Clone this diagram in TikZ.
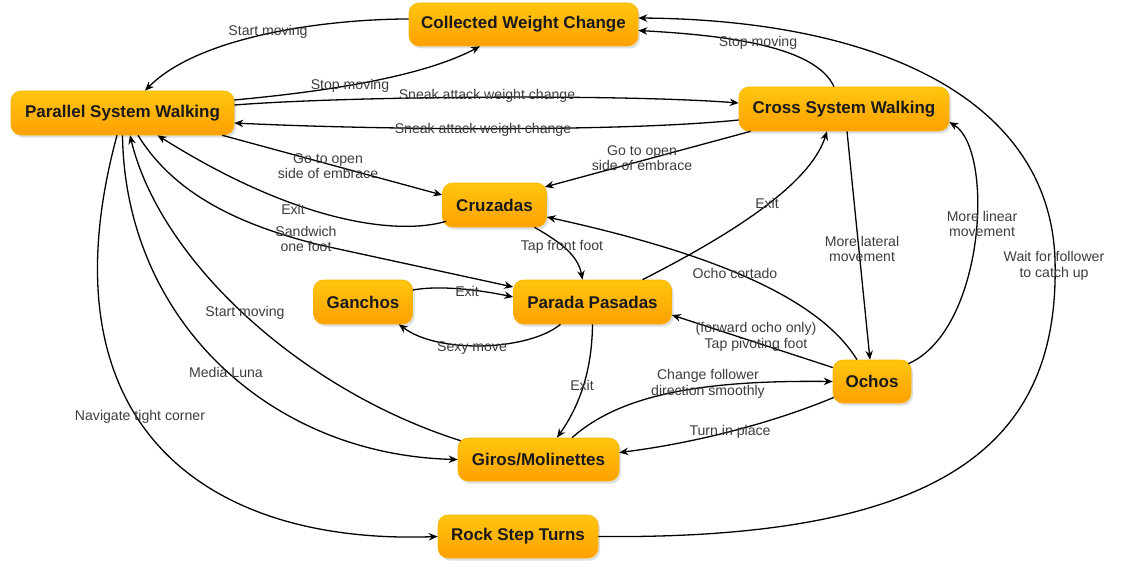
\documentclass[tikz,border=0pt]{standalone}
\usepackage{fontspec}
\setmainfont{Liberation Sans}
\usetikzlibrary{arrows.meta,calc,shadows}
\definecolor{boxtop}{HTML}{FFC60F}
\definecolor{boxbot}{HTML}{FFA000}
\definecolor{boxline}{HTML}{F7B400}
\definecolor{lbltext}{HTML}{3C3C3C}
\definecolor{boxtext}{HTML}{1A1A1A}
\begin{document}
\begin{tikzpicture}[x=1pt,y=-1pt,
  state/.style={rounded corners=10pt, top color=boxtop, bottom color=boxbot, draw=boxline, line width=0.6pt,
    drop shadow={shadow xshift=2pt,shadow yshift=-2.5pt,opacity=0.25},
    font=\fontsize{17}{19}\selectfont\bfseries, text=boxtext, inner sep=0pt},
  lbl/.style={font=\fontsize{14.1}{15.5}\selectfont, text=lbltext, align=center, inner sep=0pt},
  conn/.style={line width=1.3pt, -{Stealth[length=9pt,width=7.5pt]}},
]
\useasboundingbox (0,0) rectangle (1126,567);

% nodes
\node[state, minimum width=229pt, minimum height=43pt] (cwc) at (523.5,24.5) {Collected Weight Change};
\node[state, minimum width=223pt, minimum height=44pt] (psw) at (122.5,113) {Parallel System Walking};
\node[state, minimum width=210pt, minimum height=44pt] (csw) at (844,109) {Cross System Walking};
\node[state, minimum width=104pt, minimum height=44pt] (cruz) at (494.5,205) {Cruzadas};
\node[state, minimum width=99pt, minimum height=44pt] (gan) at (363,302) {Ganchos};
\node[state, minimum width=158pt, minimum height=44pt] (pp) at (592.5,302) {Parada Pasadas};
\node[state, minimum width=78pt, minimum height=43pt] (ochos) at (872,381.5) {Ochos};
\node[state, minimum width=161pt, minimum height=43pt] (giros) at (538.5,459.5) {Giros/Molinettes};
\node[state, minimum width=160pt, minimum height=43pt] (rock) at (518,536.5) {Rock Step Turns};

% connectors
\draw[conn] ($(cwc.west)+(0,-5.5)$) .. controls (330,19) and (200,35) .. ($(psw.north)+(22.5,0)$);
\draw[conn] ($(psw.east)+(0,-13)$) .. controls (320,92) and (420,78) .. ($(cwc.south)+(-43.5,0)$);
\draw[conn] ($(psw.east)+(0,-8)$) .. controls (350,96) and (620,94) .. ($(csw.west)+(0,-6)$);
\draw[conn] ($(csw.west)+(0,11)$) .. controls (620,132) and (380,130) .. ($(psw.east)+(0,10)$);
\draw[conn] ($(psw.south east)+(-12,0)$) -- ($(cruz.west)+(0,-10)$);
\draw[conn] ($(cruz.south west)+(4,-6)$) .. controls (400,235) and (300,225) .. ($(psw.south)+(35,0)$);
\draw[conn] ($(psw.south)+(15.5,0)$) .. controls (175,195) and (240,225) .. (320,245) -- ($(pp.west)+(0,-15)$);
\draw[conn] ($(csw.south west)+(12,0)$) -- ($(cruz.east)+(-2,-18)$);
\draw[conn] ($(cruz.south)+(40,0)$) .. controls (560,242) and (578,255) .. ($(pp.north)+(-10,0)$);
\draw[conn] ($(pp.north)+(50,0)$) .. controls (730,235) and (810,185) .. ($(csw.south)+(-17,0)$);
\draw[conn] ($(ochos.north)+(-15,0)$) .. controls (820,300) and (720,255) .. ($(cruz.east)+(0,12)$);
\draw[conn] ($(csw.south)+(3,0)$) -- ($(ochos.north)+(-2,0)$);
\draw[conn] ($(ochos.north east)+(-3,4)$) .. controls (985,330) and (995,150) .. ($(csw.east)+(0,13)$);
\draw[conn] ($(gan.east)+(0,-12)$) .. controls (440,285) and (480,290) .. ($(pp.west)+(0,-5)$);
\draw[conn] ($(pp.south)+(-32,0)$) .. controls (530,350) and (440,355) .. ($(gan.south east)+(-14,0)$);
\draw[conn] ($(ochos.west)+(0,-14)$) -- ($(pp.east)+(0,13)$);
\draw[conn] (pp.south) .. controls (592,370) and (580,405) .. ($(giros.north)+(18.5,0)$);
\draw[conn] ($(giros.north)+(33.5,0)$) .. controls (620,395) and (700,380) .. (ochos.west);
\draw[conn] ($(ochos.west)+(1,16)$) .. controls (760,428) and (680,445) .. ($(giros.east)+(0,-7)$);
\draw[conn] ($(giros.north west)+(3,3)$) .. controls (300,390) and (160,260) .. ($(psw.south)+(7.5,0)$);
\draw[conn] (psw.south) .. controls (125,320) and (270,455) .. (giros.west);
\draw[conn] ($(psw.south)+(-5.5,0)$) .. controls (40,420) and (200,545) .. (rock.west);
\draw[conn] (rock.east) .. controls (950,540) and (1060,440) .. (1055,260) .. controls (1050,100) and (880,20) .. ($(cwc.east)+(0,-6.5)$);
\draw[conn] ($(csw.north)+(-10,0)$) .. controls (815,45) and (720,35) .. ($(cwc.east)+(0,6)$);

% labels
\node[lbl] (l1) at (268,32) {Start moving};
\node[lbl] (l2) at (350,86) {Stop moving};
\node[lbl] (l3) at (487,96) {Sneak attack weight change};
\node[lbl] (l4) at (483,130) {Sneak attack weight change};
\node[lbl] (l5) at (328,166) {Go to open\\side of embrace};
\node[lbl] (l6) at (293,209) {Exit};
\node[lbl] (l7) at (306,239) {Sandwich\\one foot};
\node[lbl] (l8) at (642,158) {Go to open\\side of embrace};
\node[lbl] (l9) at (562,247) {Tap front foot};
\node[lbl] (l10) at (767,203) {Exit};
\node[lbl] (l11) at (735,273) {Ocho cortado};
\node[lbl] (l12) at (862,249) {More lateral\\movement};
\node[lbl] (l13) at (982,224) {More linear\\movement};
\node[lbl] (l14) at (467,291) {Exit};
\node[lbl] (l15) at (472,348) {Sexy move};
\node[lbl] (l16) at (756,337) {(forward ocho only)\\Tap pivoting foot};
\node[lbl] (l17) at (582,385) {Exit};
\node[lbl] (l18) at (708,384) {Change follower\\direction smoothly};
\node[lbl] (l19) at (730,432) {Turn in place};
\node[lbl] (l20) at (245,313) {Start moving};
\node[lbl] (l21) at (226,372) {Media Luna};
\node[lbl] (l22) at (140,417) {Navigate tight corner};
\node[lbl] (l24) at (1054,266) {Wait for follower\\to catch up};
\node[lbl] (l25) at (758,43) {Stop moving};
\end{tikzpicture}
\end{document}
